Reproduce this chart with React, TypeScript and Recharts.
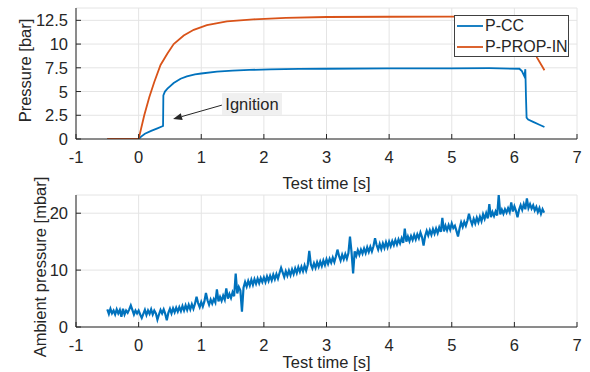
import { LineChart, Line, XAxis, YAxis, CartesianGrid, Legend, ReferenceDot, ReferenceLine } from "recharts"

const FONT = '"Liberation Sans", Arial, sans-serif'
const TEXT = "#262626"
const GRID = "#e4e4e4"
const BLUE = "#0072BD"
const ORANGE = "#D95319"

// axis ticks
const timeTicks = [-1, 0, 1, 2, 3, 4, 5, 6, 7]
const pressureTicks = [0, 2.5, 5, 7.5, 10, 12.5]
const ambientTicks = [0, 10, 20]

// chamber pressure (bar)
const pccTime = [-0.5, 0, 0.04, 0.1, 0.2, 0.3, 0.39, 0.395, 0.42, 0.46, 0.56, 0.67, 0.77, 0.9, 1.0, 1.25, 1.5, 1.77, 2.1, 2.56, 3.0, 4.0, 5.0, 5.6, 6.08, 6.12, 6.16, 6.175, 6.185, 6.195, 6.22, 6.3, 6.4, 6.48]
const pccValue = [0, 0, 0.25, 0.55, 0.85, 1.12, 1.37, 4.6, 5.0, 5.3, 5.9, 6.35, 6.6, 6.8, 6.9, 7.1, 7.2, 7.28, 7.33, 7.38, 7.4, 7.44, 7.45, 7.46, 7.4, 7.15, 6.6, 7.35, 4.5, 2.25, 2.05, 1.8, 1.5, 1.26]

// propellant inlet pressure (bar)
const propTime = [-0.5, 0, 0.04, 0.09, 0.17, 0.25, 0.35, 0.46, 0.56, 0.72, 0.88, 1.09, 1.41, 1.83, 2.35, 3.0, 4.0, 5.0, 6.1, 6.18, 6.27, 6.36, 6.48]
const propValue = [0, 0, 1.1, 2.5, 4.4, 6.0, 7.8, 9.0, 10.0, 10.9, 11.5, 12.0, 12.4, 12.6, 12.75, 12.85, 12.88, 12.9, 12.9, 12.4, 10.5, 8.6, 7.25]

// ambient pressure (mbar), sampled every 0.025 s from -0.5 s
const ambientStart = -0.5
const ambientStep = 0.025
const ambientValue = [
  3.1, 2.3, 3.2, 2.4, 2.9, 2.2, 3.1, 2.4, 3.0, 1.8, 3.2, 2.2, 2.9, 2.5, 3.1, 3.8, 3.0, 2.2, 2.9, 2.4,
  2.9, 2.2, 1.6, 2.3, 3.0, 2.1, 2.9, 2.3, 3.1, 2.2, 2.9, 2.4, 1.3, 2.2, 3.0, 2.4, 3.1, 2.3, 1.2, 2.5,
  3.2, 2.4, 3.3, 2.6, 3.4, 2.7, 3.5, 2.8, 3.7, 2.9, 3.8, 3.0, 3.9, 3.1, 4.0, 3.2, 4.1, 5.3, 4.2, 3.5,
  4.4, 3.6, 4.5, 6.0, 4.7, 3.9, 4.8, 4.1, 4.9, 4.3, 6.6, 4.5, 5.3, 4.6, 5.5, 4.8, 6.8, 5.0, 5.8, 5.1,
  6.1, 5.4, 9.4, 5.9, 7.0, 6.4, 2.7, 6.9, 7.9, 7.1, 8.1, 7.3, 8.3, 7.4, 8.4, 7.6, 8.5, 7.7, 8.6, 7.9,
  8.7, 7.9, 8.9, 8.1, 9.0, 8.2, 9.2, 8.4, 9.3, 8.5, 9.5, 10.4, 9.6, 8.8, 9.8, 9.0, 9.9, 9.1, 10.1, 9.3,
  10.3, 9.5, 10.5, 9.7, 10.6, 9.8, 10.8, 9.9, 10.9, 13.4, 11.0, 10.3, 11.2, 10.4, 11.4, 10.6, 11.5, 10.7, 11.7, 10.9,
  11.9, 11.1, 12.0, 11.3, 12.2, 11.4, 12.4, 13.6, 12.5, 11.7, 12.7, 11.9, 12.8, 12.0, 13.0, 15.9, 13.1, 9.4, 13.3, 12.5,
  13.5, 12.7, 13.6, 12.9, 13.8, 13.0, 14.0, 13.2, 14.1, 13.3, 14.2, 15.6, 14.4, 13.6, 14.6, 13.7, 14.7, 13.9, 14.9, 14.0,
  15.0, 14.2, 15.1, 14.4, 15.3, 14.5, 15.4, 14.7, 15.6, 14.8, 17.3, 15.0, 15.9, 15.1, 16.0, 15.3, 16.2, 15.4, 16.3, 15.6,
  16.6, 15.8, 14.3, 16.0, 16.9, 16.1, 17.0, 16.2, 17.2, 16.4, 17.3, 16.5, 17.5, 16.7, 19.2, 16.8, 17.8, 17.0, 17.9, 17.1,
  18.2, 17.4, 17.8, 16.9, 15.9, 17.3, 18.4, 17.6, 18.5, 17.8, 18.7, 19.9, 18.8, 18.0, 19.0, 18.2, 19.2, 18.4, 19.4, 18.6,
  19.8, 19.0, 20.0, 19.1, 21.6, 19.3, 20.2, 19.5, 20.3, 19.6, 23.2, 19.8, 20.6, 19.9, 20.7, 20.1, 20.9, 20.2, 21.9, 20.3,
  21.2, 20.4, 19.3, 20.6, 21.4, 20.6, 21.6, 20.7, 22.6, 20.9, 21.6, 20.8, 21.4, 20.5, 21.1, 20.2, 20.9, 19.9, 20.7, 20.1,
]

const pccData = pccTime.map((t, i) => ({ t, v: pccValue[i] }))
const propData = propTime.map((t, i) => ({ t, v: propValue[i] }))
const ambientData = ambientValue.map((v, i) => ({ t: +(ambientStart + i * ambientStep).toFixed(3), v }))

const XTick = (props: any) => {
  const { x, y, payload } = props
  return (
    <g>
      <line x1={x} x2={x} y1={y} y2={y - 5} stroke={TEXT} strokeWidth={1} />
      <text x={x} y={y + 18} textAnchor="middle" dominantBaseline="central" fill={TEXT} fontSize={16.5} fontFamily={FONT}>
        {payload.value}
      </text>
    </g>
  )
}

const YTick = (props: any) => {
  const { x, y, payload } = props
  return (
    <g>
      <line x1={x} x2={x + 5} y1={y} y2={y} stroke={TEXT} strokeWidth={1} />
      <text x={x - 8} y={y} textAnchor="end" dominantBaseline="central" fill={TEXT} fontSize={16.5} fontFamily={FONT}>
        {payload.value}
      </text>
    </g>
  )
}

const xTitle = (dy: number) => (props: any) => {
  const { x, y, width } = props.viewBox
  return (
    <text x={x + width / 2} y={y + dy} textAnchor="middle" dominantBaseline="central" fill={TEXT} fontSize={16.5} fontFamily={FONT}>
      Test time [s]
    </text>
  )
}

const yTitle = (text: string, cx: number, dy: number) => (props: any) => {
  const { y, height } = props.viewBox
  const cy = y + height / 2 + dy
  return (
    <text x={cx} y={cy} transform={`rotate(-90 ${cx} ${cy})`} textAnchor="middle" dominantBaseline="central" fill={TEXT} fontSize={16.5} fontFamily={FONT}>
      {text}
    </text>
  )
}

const LegendBox = (props: any) => {
  const { payload } = props
  return (
    <div style={{ width: 113, height: 40, border: "1px solid #404040", background: "#fff", fontFamily: FONT, fontSize: 16, color: TEXT }}>
      {(payload || []).map((e: any) => (
        <div key={e.value} style={{ display: "flex", alignItems: "center", height: 20.5 }}>
          <svg width={29} height={4} style={{ display: "block" }}>
            <line x1={2} x2={28} y1={2} y2={2} stroke={e.color} strokeWidth={1.8} />
          </svg>
          <span style={{ marginLeft: 1 }}>{e.value}</span>
        </div>
      ))}
    </div>
  )
}

const IgnitionLabel = (props: any) => {
  const { cx, cy } = props
  return (
    <g>
      <rect x={cx - 30} y={cy - 11} width={60} height={22} fill="#f0f0f0" />
      <text x={cx} y={cy} textAnchor="middle" dominantBaseline="central" fill={TEXT} fontSize={16.5} fontFamily={FONT}>
        Ignition
      </text>
    </g>
  )
}

const Arrow = (props: any) => {
  const { x1, y1, x2, y2 } = props
  const ang = Math.atan2(y2 - y1, x2 - x1)
  const len = 9
  const w = 3.5
  const bx = x2 - len * Math.cos(ang)
  const by = y2 - len * Math.sin(ang)
  const px = -Math.sin(ang) * w
  const py = Math.cos(ang) * w
  return (
    <g>
      <line x1={x1} y1={y1} x2={bx} y2={by} stroke={TEXT} strokeWidth={1} />
      <polygon points={`${x2},${y2} ${bx + px},${by + py} ${bx - px},${by - py}`} fill={TEXT} />
    </g>
  )
}

export default function App() {
  return (
    <div style={{ position: "absolute", left: 0, top: 0, width: 590, height: 372, background: "#fff" }}>
      <div style={{ position: "absolute", left: 0, top: 0 }}>
        <LineChart width={590} height={200} margin={{ top: 8, right: 13, bottom: 10, left: 0 }}>
          <CartesianGrid stroke={GRID} strokeWidth={1} />
          <XAxis
            type="number"
            dataKey="t"
            domain={[-1, 7]}
            ticks={timeTicks}
            allowDataOverflow
            height={51}
            stroke={TEXT}
            tickLine={false}
            tickSize={0}
            tickMargin={0}
            tick={<XTick />}
            label={xTitle(44)}
          />
          <YAxis
            type="number"
            domain={[0, 13.8]}
            ticks={pressureTicks}
            allowDataOverflow
            width={76}
            stroke={TEXT}
            tickLine={false}
            tickSize={0}
            tickMargin={0}
            tick={<YTick />}
            label={yTitle("Pressure [bar]", 25, -3)}
          />
          <Line data={pccData} dataKey="v" name="P-CC" stroke={BLUE} strokeWidth={1.8} dot={false} activeDot={false} isAnimationActive={false} />
          <Line data={propData} dataKey="v" name="P-PROP-IN" stroke={ORANGE} strokeWidth={1.8} dot={false} activeDot={false} isAnimationActive={false} />
          <ReferenceLine segment={[{ x: 1.33, y: 3.57 }, { x: 0.55, y: 2.1 }]} shape={Arrow} />
          <ReferenceDot x={1.81} y={3.68} r={0} shape={IgnitionLabel} />
          <Legend
            layout="vertical"
            align="center"
            verticalAlign="middle"
            content={<LegendBox />}
            wrapperStyle={{ left: 454, top: 15, width: 115, height: 42 }}
          />
        </LineChart>
      </div>
      <div style={{ position: "absolute", left: 0, top: 160 }}>
        <LineChart width={590} height={212} margin={{ top: 35, right: 13, bottom: 0, left: 0 }}>
          <CartesianGrid stroke={GRID} strokeWidth={1} />
          <XAxis
            type="number"
            dataKey="t"
            domain={[-1, 7]}
            ticks={timeTicks}
            allowDataOverflow
            height={45}
            stroke={TEXT}
            tickLine={false}
            tickSize={0}
            tickMargin={0}
            tick={<XTick />}
            label={xTitle(35)}
          />
          <YAxis
            type="number"
            domain={[0, 23.2]}
            ticks={ambientTicks}
            allowDataOverflow
            width={76}
            stroke={TEXT}
            tickLine={false}
            tickSize={0}
            tickMargin={0}
            tick={<YTick />}
            label={yTitle("Ambient pressure [mbar]", 40, 6)}
          />
          <Line data={ambientData} dataKey="v" name="Ambient" stroke={BLUE} strokeWidth={2.2} dot={false} activeDot={false} isAnimationActive={false} />
        </LineChart>
      </div>
    </div>
  )
}
